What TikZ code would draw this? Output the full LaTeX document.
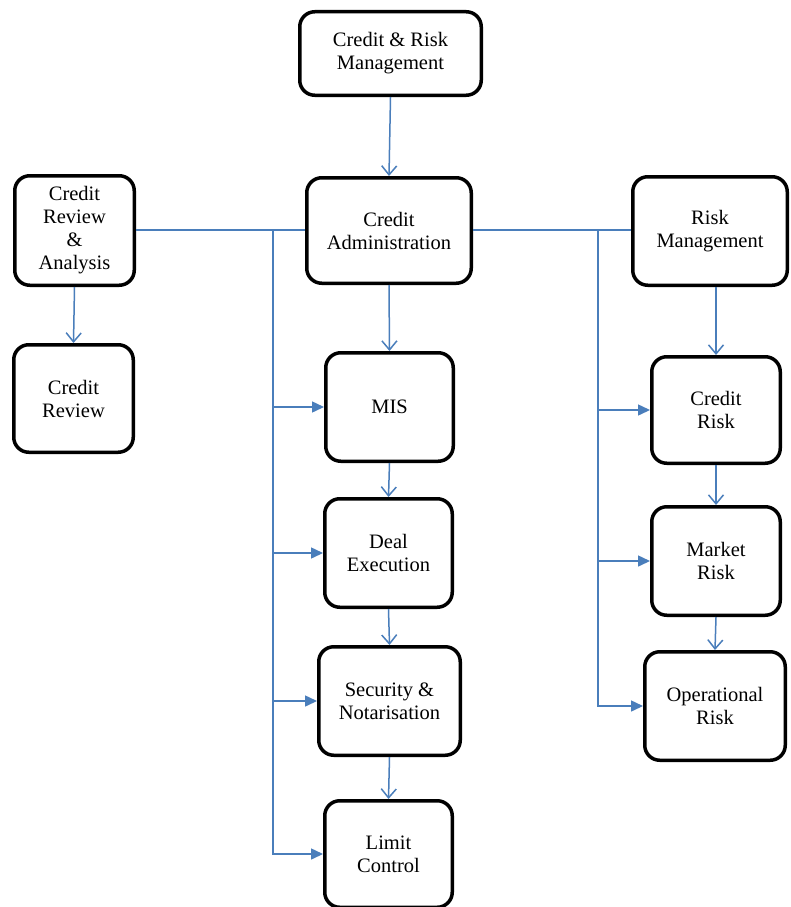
\documentclass[tikz,border=0pt]{standalone}
\usepackage{fontspec}
\setmainfont{Liberation Serif}
\usetikzlibrary{arrows.meta}
\definecolor{lnblue}{HTML}{4A7EBB}
\begin{document}
\begin{tikzpicture}[x=1pt,y=-1pt,
  box/.style={draw=black, line width=3.5pt, rounded corners=15pt, fill=white,
    align=center, inner sep=2pt, font=\fontsize{20.5}{23}\selectfont},
  link/.style={draw=lnblue, line width=1.5pt},
  down/.style={link, -{Straight Barb[length=9pt,width=15pt,line width=1.5pt]}},
  side/.style={link, -{Triangle[length=12pt,width=11pt]}}]
\useasboundingbox (0,0) rectangle (790,907);
\clip (0,0) rectangle (790,907);
\fill[white] (0,0) rectangle (790,907);
% nodes
\node[box, minimum width=181.5pt, minimum height=83.5pt] (crm) at (390.5,53.5) {Credit \& Risk\\Management};
\node[box, minimum width=119.5pt, minimum height=109.5pt] (cra) at (74.5,230.5) {Credit\\Review\\\&\\Analysis};
\node[box, minimum width=164.5pt, minimum height=105.5pt] (ca) at (389,230.5) {Credit\\Administration};
\node[box, minimum width=154.5pt, minimum height=108.5pt] (rm) at (710,231) {Risk\\Management};
\node[box, minimum width=119.5pt, minimum height=107.5pt] (cr) at (73.5,398.5) {Credit\\Review};
\node[box, minimum width=127.5pt, minimum height=108.5pt] (mis) at (389.5,407) {MIS};
\node[box, minimum width=127.5pt, minimum height=108.5pt] (de) at (388.5,553) {Deal\\Execution};
\node[box, minimum width=141.5pt, minimum height=108.5pt] (sn) at (389.5,701) {Security \&\\Notarisation};
\node[box, minimum width=127.5pt, minimum height=106.5pt] (lc) at (388.5,854) {Limit\\Control};
\node[box, minimum width=128.5pt, minimum height=106.5pt] (crk) at (716,410) {Credit\\Risk};
\node[box, minimum width=128.5pt, minimum height=108.5pt] (mr) at (716,561) {Market\\Risk};
\node[box, minimum width=140.5pt, minimum height=108.5pt] (or) at (715,706) {Operational\\Risk};
% trunk points
\coordinate (tl) at (273,230);
\coordinate (tr) at (598,230);
% connectors
\draw[down] (crm.south) -- (ca.north);
\draw[link] (cra.east |- tl) -- (ca.west |- tl);
\draw[link] (ca.east |- tr) -- (rm.west |- tr);
\draw[down] (cra.south) -- (cr.north);
\draw[down] (ca.south) -- (mis.north);
\draw[down] (mis.south) -- (de.north);
\draw[down] (de.south) -- (sn.north);
\draw[down] (sn.south) -- (lc.north);
\draw[down] (crk.north |- rm.south) -- (crk.north);
\draw[down] (crk.south) -- (mr.north);
\draw[down] (mr.south) -- (or.north);
% left trunk
\draw[side] (tl) |- (lc.west);
\draw[side] (tl |- mis.west) -- (mis.west);
\draw[side] (tl |- de.west) -- (de.west);
\draw[side] (tl |- sn.west) -- (sn.west);
% right trunk
\draw[side] (tr) |- (or.west);
\draw[side] (tr |- crk.west) -- (crk.west);
\draw[side] (tr |- mr.west) -- (mr.west);
\end{tikzpicture}
\end{document}
